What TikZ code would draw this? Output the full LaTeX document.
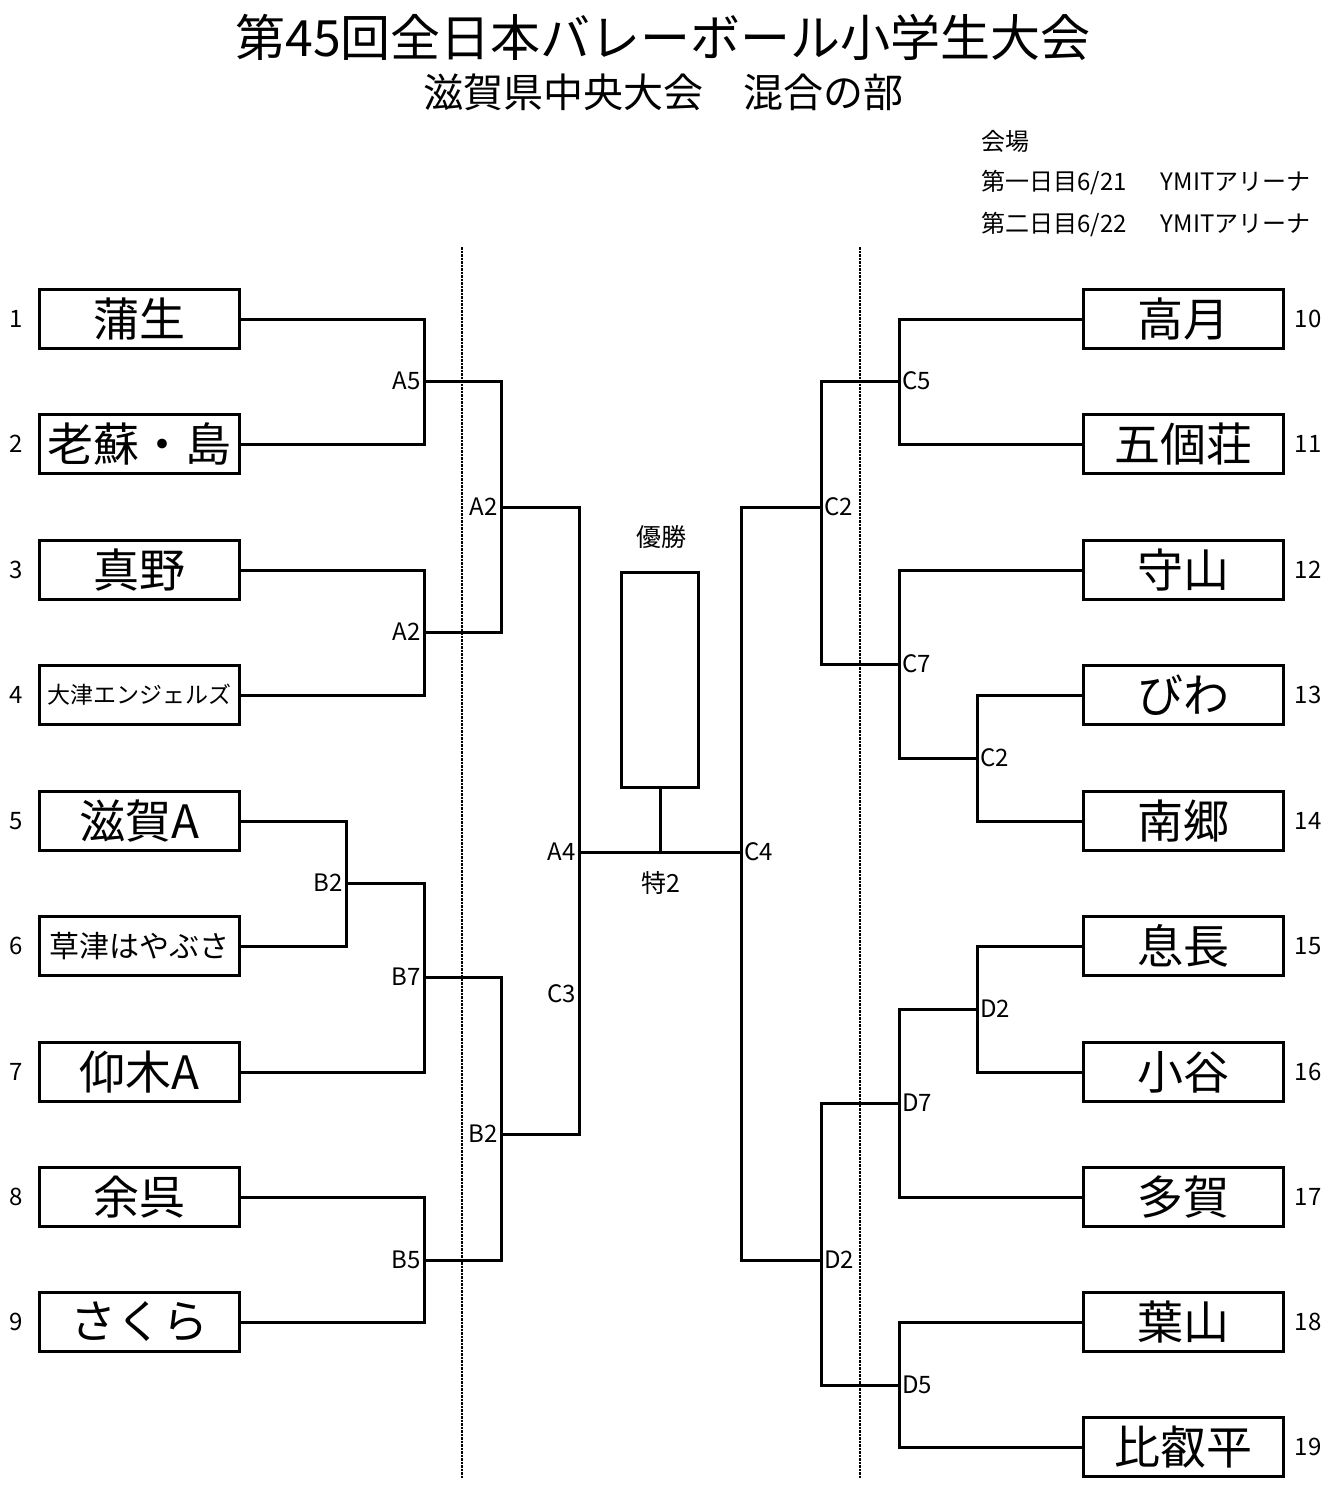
\documentclass[tikz,border=0pt]{standalone}
\usepackage{fontspec}
\setmainfont{Noto Sans CJK JP}
\usepackage{tikz}
\usetikzlibrary{positioning}

\begin{document}
\begin{tikzpicture}[x=1pt,y=-1pt,
		team/.style={draw,line width=3pt,minimum width=200pt,minimum height=59pt,inner sep=0pt,font=\fontsize{46}{46}\selectfont},
		num/.style={font=\fontsize{24}{24}\selectfont,inner sep=0pt},
		lbl/.style={font=\fontsize{24}{24}\selectfont,inner sep=3pt},
		bracket/.style={line width=3pt},
		guide/.style={line width=2.5pt,dash pattern=on 2.5pt off 1pt}]
		\useasboundingbox (0,0) rectangle (1331,1500);
		\node[font=\fontsize{50}{50}\selectfont] (title) at (663,37) {第45回全日本バレーボール小学生大会};
		\node[font=\fontsize{40}{40}\selectfont] (subtitle) at (663,92) {滋賀県中央大会　混合の部};
		\node[anchor=west,font=\fontsize{24}{24}\selectfont] (venue) at (978,141) {会場};
		\node[anchor=west,font=\fontsize{24}{24}\selectfont] (day1) at (978,183) {第一日目6/21　\hspace{10pt}YMITアリーナ};
		\node[anchor=west,font=\fontsize{24}{24}\selectfont] (day2) at (978,225) {第二日目6/22　\hspace{10pt}YMITアリーナ};
		\coordinate (g1t) at (462,247);
		\coordinate (g1b) at (462,1478);
		\coordinate (g2t) at (860,247);
		\coordinate (g2b) at (860,1478);
		\draw[guide] (g1t) -- (g1b);
		\draw[guide] (g2t) -- (g2b);
		\node[team] (t1) at (139.5,319) {蒲生};
		\node[team] (t2) at (139.5,444) {老蘇・島};
		\node[team] (t3) at (139.5,570) {真野};
		\node[team,font=\fontsize{23}{23}\selectfont] (t4) at (139.5,695) {大津エンジェルズ};
		\node[team] (t5) at (139.5,821) {滋賀A};
		\node[team,font=\fontsize{30}{30}\selectfont] (t6) at (139.5,946) {草津はやぶさ};
		\node[team] (t7) at (139.5,1072) {仰木A};
		\node[team] (t8) at (139.5,1197) {余呉};
		\node[team] (t9) at (139.5,1322) {さくら};
		\node[team] (t10) at (1183,319) {高月};
		\node[team] (t11) at (1183,444) {五個荘};
		\node[team] (t12) at (1183,570) {守山};
		\node[team] (t13) at (1183,695) {びわ};
		\node[team] (t14) at (1183,821) {南郷};
		\node[team] (t15) at (1183,946) {息長};
		\node[team] (t16) at (1183,1072) {小谷};
		\node[team] (t17) at (1183,1197) {多賀};
		\node[team] (t18) at (1183,1322) {葉山};
		\node[team] (t19) at (1183,1447) {比叡平};
		\node[num] (n1) at (16,319) {1};
		\node[num] (n2) at (16,444) {2};
		\node[num] (n3) at (16,570) {3};
		\node[num] (n4) at (16,695) {4};
		\node[num] (n5) at (16,821) {5};
		\node[num] (n6) at (16,946) {6};
		\node[num] (n7) at (16,1072) {7};
		\node[num] (n8) at (16,1197) {8};
		\node[num] (n9) at (16,1322) {9};
		\node[num] (n10) at (1308,319) {10};
		\node[num] (n11) at (1308,444) {11};
		\node[num] (n12) at (1308,570) {12};
		\node[num] (n13) at (1308,695) {13};
		\node[num] (n14) at (1308,821) {14};
		\node[num] (n15) at (1308,946) {15};
		\node[num] (n16) at (1308,1072) {16};
		\node[num] (n17) at (1308,1197) {17};
		\node[num] (n18) at (1308,1322) {18};
		\node[num] (n19) at (1308,1447) {19};
		\coordinate (jA5) at (424,381);
		\coordinate (jA2a) at (424,632);
		\coordinate (jA2) at (501,507);
		\coordinate (jB2a) at (346,883);
		\coordinate (jB7) at (424,977);
		\coordinate (jB5) at (424,1260);
		\coordinate (jB2) at (501,1134);
		\coordinate (jA4) at (579,852);
		\coordinate (jC3) at (579,994);
		\coordinate (jF) at (660,852);
		\coordinate (jC4) at (741,852);
		\coordinate (jC2) at (821,507);
		\coordinate (jC5) at (899,381);
		\coordinate (jC7) at (899,664);
		\coordinate (jC2b) at (977,758);
		\coordinate (jD2) at (821,1260);
		\coordinate (jD7) at (899,1103);
		\coordinate (jD2b) at (977,1009);
		\coordinate (jD5) at (899,1385);
		\node[draw,line width=3pt,minimum width=77pt,minimum height=215pt,inner sep=0pt] (win) at (660,680) {};
		\node[font=\fontsize{25}{25}\selectfont] (wintext) at (661,537) {優勝};
		\node[font=\fontsize{25}{25}\selectfont] (final) at (661,883) {特2};
		\draw[bracket] (t1.east) -| (jA5) |- (t2.east);
		\draw[bracket] (t3.east) -| (jA2a) |- (t4.east);
		\draw[bracket] (jA5) -| (jA2) |- (jA2a);
		\draw[bracket] (t5.east) -| (jB2a) |- (t6.east);
		\draw[bracket] (jB2a) -| (jB7) |- (t7.east);
		\draw[bracket] (t8.east) -| (jB5) |- (t9.east);
		\draw[bracket] (jB7) -| (jB2) |- (jB5);
		\draw[bracket] (jA2) -| (jA4) |- (jB2);
		\draw[bracket] (jA4) -- (jF) -- (jC4);
		\draw[bracket] (win.south) -- (jF);
		\draw[bracket] (t10.west) -| (jC5) |- (t11.west);
		\draw[bracket] (jC5) -| (jC2) |- (jC7);
		\draw[bracket] (t12.west) -| (jC7) |- (jC2b);
		\draw[bracket] (t13.west) -| (jC2b) |- (t14.west);
		\draw[bracket] (jC2) -| (jC4) |- (jD2);
		\draw[bracket] (t15.west) -| (jD2b) |- (t16.west);
		\draw[bracket] (jD2b) -| (jD7) |- (t17.west);
		\draw[bracket] (jD7) -| (jD2) |- (jD5);
		\draw[bracket] (t18.west) -| (jD5) |- (t19.west);
		\node[lbl,anchor=east] (lA5) at (jA5) {A5};
		\node[lbl,anchor=east] (lA2a) at (jA2a) {A2};
		\node[lbl,anchor=east] (lA2) at (jA2) {A2};
		\node[lbl,anchor=east] (lB2a) at (jB2a) {B2};
		\node[lbl,anchor=east] (lB7) at (jB7) {B7};
		\node[lbl,anchor=east] (lB5) at (jB5) {B5};
		\node[lbl,anchor=east] (lB2) at (jB2) {B2};
		\node[lbl,anchor=east] (lA4) at (jA4) {A4};
		\node[lbl,anchor=east] (lC3) at (jC3) {C3};
		\node[lbl,anchor=west] (lC4) at (jC4) {C4};
		\node[lbl,anchor=west] (lC2) at (jC2) {C2};
		\node[lbl,anchor=west] (lC5) at (jC5) {C5};
		\node[lbl,anchor=west] (lC7) at (jC7) {C7};
		\node[lbl,anchor=west] (lC2b) at (jC2b) {C2};
		\node[lbl,anchor=west] (lD2) at (jD2) {D2};
		\node[lbl,anchor=west] (lD7) at (jD7) {D7};
		\node[lbl,anchor=west] (lD2b) at (jD2b) {D2};
		\node[lbl,anchor=west] (lD5) at (jD5) {D5};
	\end{tikzpicture}
\end{document}
